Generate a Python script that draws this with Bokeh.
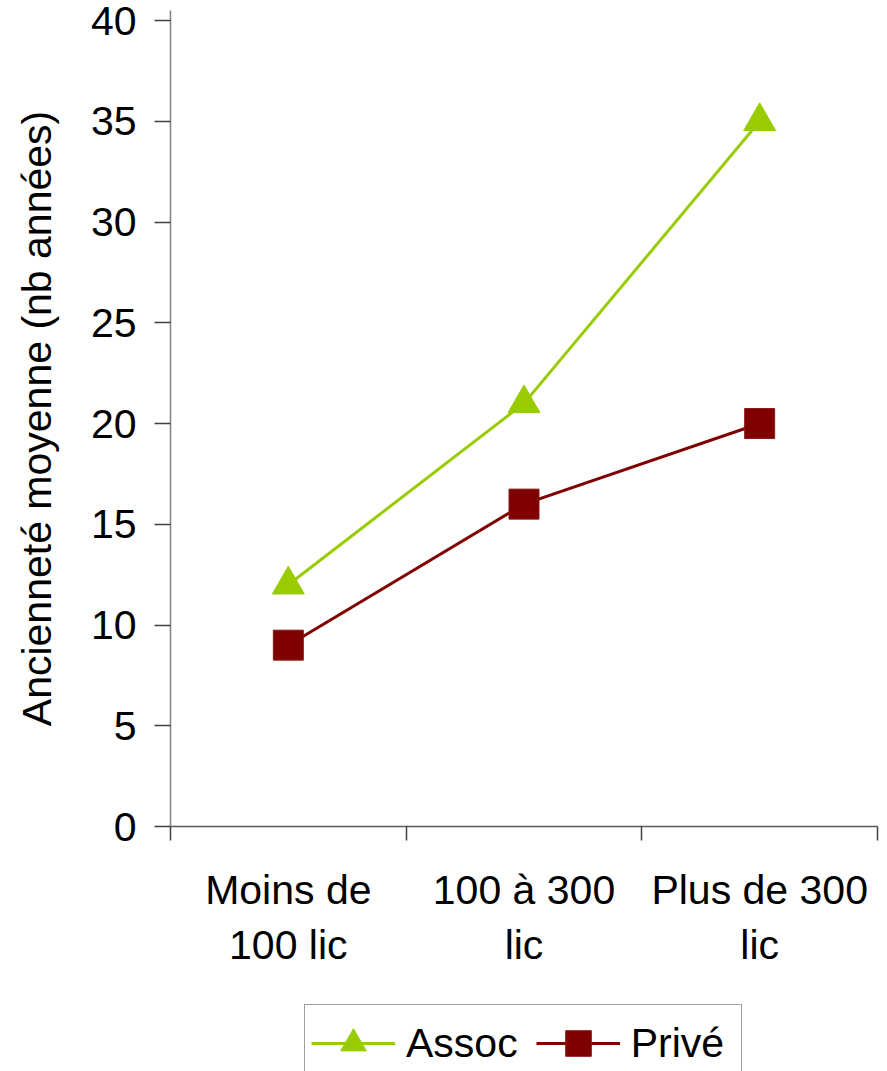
import numpy as np
from bokeh.plotting import figure
from bokeh.layouts import column
from bokeh.models import (Range1d, FixedTicker, Legend, LegendItem, ColumnDataSource)
from bokeh.embed import file_html
from bokeh.resources import INLINE

# ---- data ----
categories = ["Moins de\n100 lic", "100 à 300\nlic", "Plus de 300\nlic"]
assoc = [12, 21, 35]
prive = [9, 16, 20]
y_ticks = [0, 5, 10, 15, 20, 25, 30, 35, 40]
y_label = "Ancienneté moyenne (nb années)"
series_names = ["Assoc", "Privé"]

FONT = "Liberation Sans"
FS = "41px"
C_ASSOC = "#99CC00"
C_PRIVE = "#800000"

xpos = list(np.arange(len(categories)) + 0.5)
src = ColumnDataSource(dict(x=xpos, assoc=assoc, prive=prive))


def add_series(fig):
    l1 = fig.line("x", "assoc", source=src, line_color=C_ASSOC, line_width=3)
    m1 = fig.scatter("x", "assoc", source=src, marker="triangle", size=32,
                     fill_color=C_ASSOC, line_color=C_ASSOC)
    l2 = fig.line("x", "prive", source=src, line_color=C_PRIVE, line_width=3)
    m2 = fig.scatter("x", "prive", source=src, marker="square", size=30,
                     fill_color=C_PRIVE, line_color="#8a1a1a")
    return l1, m1, l2, m2


p = figure(width=887, height=1000, output_backend="svg", toolbar_location=None,
           x_range=Range1d(0, len(categories)), y_range=Range1d(0, 40.5),
           min_border_left=170, min_border_right=10, min_border_top=10,
           min_border_bottom=174)
p.outline_line_color = None
p.xgrid.visible = False
p.ygrid.visible = False
add_series(p)

# y axis
ya = p.yaxis[0]
ya.ticker = FixedTicker(ticks=y_ticks)
ya.axis_line_color = "#808080"
ya.axis_line_width = 1.5
ya.major_tick_out = 16
ya.major_tick_in = 0
ya.major_tick_line_color = "#404040"
ya.major_tick_line_width = 1.5
ya.minor_tick_line_color = None
ya.major_label_text_font = FONT
ya.major_label_text_font_size = FS
ya.major_label_text_color = "black"
ya.major_label_standoff = 18
ya.axis_label = y_label
ya.axis_label_text_font = FONT
ya.axis_label_text_font_size = FS
ya.axis_label_text_font_style = "normal"
ya.axis_label_text_color = "black"
ya.axis_label_standoff = 28

# x axis: labels at category centres, ticks at boundaries
xa = p.xaxis[0]
xa.ticker = FixedTicker(ticks=xpos, minor_ticks=list(range(len(categories) + 1)))
xa.major_label_overrides = {float(v): c for v, c in zip(xpos, categories)}
xa.major_tick_line_color = None
xa.major_tick_out = 0
xa.minor_tick_out = 14
xa.minor_tick_in = 0
xa.minor_tick_line_color = "#404040"
xa.minor_tick_line_width = 1.5
xa.axis_line_color = "#5a5a5a"
xa.axis_line_width = 1.5
xa.major_label_text_font = FONT
xa.major_label_text_font_size = FS
xa.major_label_text_color = "black"
xa.major_label_standoff = 26

# ---- legend strip (its own small figure; series kept out of its view) ----
lg = figure(width=887, height=71, output_backend="svg", toolbar_location=None,
            x_range=Range1d(100, 101), y_range=Range1d(100, 101),
            x_axis_location=None, y_axis_location=None,
            min_border_left=0, min_border_right=0, min_border_top=0,
            min_border_bottom=0)
lg.outline_line_color = None
lg.xgrid.visible = False
lg.ygrid.visible = False
r1, s1, r2, s2 = add_series(lg)

legend = Legend(items=[LegendItem(label=series_names[0], renderers=[r1, s1]),
                       LegendItem(label=series_names[1], renderers=[r2, s2])],
                orientation="horizontal", location=(134, -11),
                glyph_width=84, glyph_height=64, label_standoff=11, spacing=18,
                label_width=104,
                padding=6, label_text_font=FONT, label_text_font_size=FS,
                label_text_color="black", border_line_color="#404040",
                border_line_width=1.5, background_fill_alpha=1.0)
lg.add_layout(legend, "center")

layout = column(p, lg, spacing=0)
open("out.html", "w").write(file_html(layout, INLINE))
